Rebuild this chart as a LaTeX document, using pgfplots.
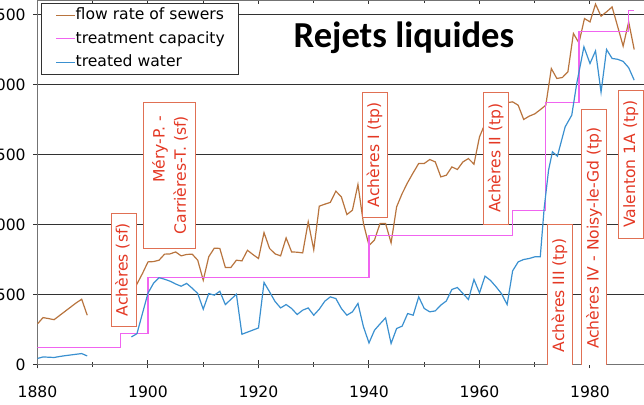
\documentclass[border=0pt]{standalone}
\usepackage{fontspec}
\setmainfont{DejaVu Sans}
\newfontfamily\titlefont{Carlito}
\usepackage{pgfplots}
\usepackage{pgfplotstable}
\pgfplotsset{compat=1.18}
\definecolor{flowc}{RGB}{184,116,62}
\definecolor{capc}{RGB}{240,100,240}
\definecolor{treatc}{RGB}{58,144,208}
\definecolor{annred}{RGB}{228,56,36}
\definecolor{annbox}{RGB}{224,112,84}
\definecolor{gridc}{RGB}{50,50,50}
\tikzset{ann/.style={draw=annbox, line width=0.5pt, fill=white, text=annred,
    rotate=90, font=\fontsize{7.8}{9.4}\selectfont, inner sep=0pt,
    minimum height=12.5pt, text height=6pt, text depth=1.8pt}}

\pgfplotstableread{
year flow
1880 290
1881 335
1882 328
1883 320
1884 350
1885 380
1886 410
1887 440
1888 466
1889 352
1890 nan
1897 490
1898 575
1899 650
1900 733
1901 735
1902 745
1903 788
1904 790
1905 804
1906 776
1907 786
1908 788
1909 745
1910 602
1911 770
1912 831
1913 829
1914 693
1915 693
1916 745
1917 740
1918 816
1919 785
1920 757
1921 942
1922 829
1923 790
1924 776
1925 904
1926 804
1927 802
1928 797
1929 1019
1930 820
1931 1131
1932 1145
1933 1158
1934 1238
1935 1197
1936 1071
1937 1102
1938 1286
1939 1007
1940 850
1941 890
1942 1007
1943 1007
1944 869
1945 1126
1946 1221
1947 1300
1948 1370
1949 1436
1950 1436
1951 1464
1952 1447
1953 1340
1954 1352
1955 1411
1956 1393
1957 1447
1958 1471
1959 1431
1960 1626
1961 1720
1962 1780
1963 1810
1964 1840
1965 1870
1966 1876
1967 1852
1968 1750
1969 1774
1970 1790
1971 1820
1972 1852
1973 2114
1974 2043
1975 2050
1976 2090
1977 2364
1978 2297
1979 2471
1980 2447
1981 2574
1982 2488
1983 2519
1984 2554
1985 2415
1986 2274
1987 2447
1988 2250
}\flowtable

\pgfplotstableread{
year treated
1880 43
1881 54
1882 52
1883 50
1884 57
1885 63
1886 68
1887 73
1888 78
1889 61
1890 nan
1897 197
1898 220
1899 365
1900 510
1901 580
1902 620
1903 609
1904 595
1905 575
1906 559
1907 579
1908 545
1909 507
1910 395
1911 507
1912 495
1913 523
1914 428
1915 465
1916 502
1917 216
1918 231
1919 246
1920 261
1921 586
1922 519
1923 450
1924 404
1925 428
1926 400
1927 357
1928 388
1929 404
1930 352
1931 395
1932 452
1933 483
1934 471
1935 400
1936 352
1937 376
1938 436
1939 269
1940 154
1941 245
1942 290
1943 333
1944 150
1945 257
1946 274
1947 364
1948 352
1949 483
1950 400
1951 376
1952 383
1953 424
1954 454
1955 536
1956 550
1957 507
1958 464
1959 607
1960 511
1961 631
1962 600
1963 555
1964 505
1965 428
1966 669
1967 733
1968 750
1969 757
1970 769
1971 769
1971.7 1114
1972.5 1388
1973.2 1519
1974.1 1488
1975.5 1697
1976.7 1781
1977.6 2007
1978.9 2269
1980 2150
1981 2240
1982 1945
1983 2250
1984 2186
1985 2180
1986 2165
1987 2120
1988 2031
}\treatedtable

\pgfplotstableread{
year cap
1880 120
1895 220
1900 620
1940 920
1966 1100
1972 1870
1978 2380
1987 2530
1988 2530
}\captable

\begin{document}
\begin{tikzpicture}
\useasboundingbox (-18.75pt,-19.85pt) rectangle (303.25pt,182.25pt);
\clip (-18.75pt,-19.85pt) rectangle (303.25pt,182.25pt);
\begin{axis}[
  at={(0pt,0pt)}, anchor=south west,
  scale only axis, width=303.875pt, height=182pt,
  xmin=1880, xmax=1990, ymin=0, ymax=2600,
  xtick={1880,1900,...,1980},
  minor xtick={1890,1910,...,1970},
  ytick={0,500,...,2500},
  ymajorgrids,
  major grid style={gridc, line width=0.55pt},
  axis line style={black!55, line width=0.55pt},
  tick style={gridc, line width=0.5pt},
  tick align=center, major tick length=4pt, minor tick length=2.5pt,
  ticklabel style={font=\fontsize{7.8}{9}\selectfont},
  /pgf/number format/assume math mode=true,
  /pgf/number format/1000 sep={},
  xticklabel style={yshift=-5.3pt},
  yticklabel style={xshift=-0.4pt},
  unbounded coords=jump,
  legend cell align=left,
  legend style={
    at={(axis description cs:0,1)}, anchor=north west,
    xshift=1.75pt, yshift=-1.2pt,
    draw=gridc, line width=0.5pt, fill=white,
    font=\fontsize{7.8}{9}\selectfont,
    inner xsep=7pt, inner ysep=2.1pt, row sep=3.95pt,
    nodes={inner sep=0pt, text height=6pt, text depth=1.8pt},
  },
  legend image code/.code={\draw[#1] (0pt,0pt) -- (9.5pt,0pt);},
]
\addplot[flowc, line width=0.6pt] table[x=year, y=flow] {\flowtable};
\addlegendentry{flow rate of sewers}
\addplot[capc, line width=0.6pt, const plot] table[x=year, y=cap] {\captable};
\addlegendentry{treatment capacity}
\addplot[treatc, line width=0.6pt] table[x=year, y=treated] {\treatedtable};
\addlegendentry{treated water}

\node[ann, minimum width=56.5pt] at (axis cs:1895.57,677) {Achères (sf)};
\node[draw=annbox, line width=0.5pt, fill=white, text=annred, rotate=90,
      font=\fontsize{7.8}{10.6}\selectfont, inner sep=0pt, align=right,
      minimum width=73pt, minimum height=26pt]
      at (axis cs:1903.98,1352) {Méry-P. -\\Carrières-T. (sf)};
\node[ann, minimum width=62.5pt] at (axis cs:1941.09,1499) {Achères I (tp)};
\node[ann, minimum width=66pt] at (axis cs:1963.0,1474) {Achères II (tp)};
\node[ann, minimum width=71pt] at (axis cs:1974.57,495) {Achères III (tp)};
\node[ann, minimum width=129pt] at (axis cs:1980.8,902) {Achères IV - Noisy-le-Gd (tp)};
\node[ann, minimum width=74pt] at (axis cs:1987.4,1430) {Valenton 1A (tp)};

\node[anchor=base, font=\titlefont\bfseries\fontsize{18.3}{20}\selectfont]
  at (axis cs:1946.33,2266) {Rejets liquides};
\end{axis}
\end{tikzpicture}
\end{document}
